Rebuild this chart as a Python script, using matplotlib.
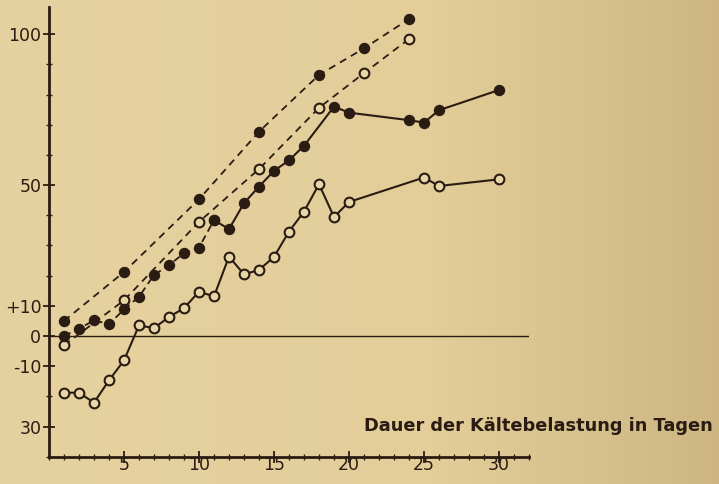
import numpy as np
import matplotlib
matplotlib.use("Agg")
import matplotlib.pyplot as plt
from matplotlib.ticker import FixedLocator, MultipleLocator
from matplotlib.colors import LinearSegmentedColormap

# Days of cold exposure and the four measured series
days_a = [1, 5, 10, 14, 18, 21, 24]
vals_a = [5.0, 21.2, 45.3, 67.7, 86.5, 95.3, 105.0]

days_b = [1, 5, 10, 14, 18, 21, 24]
vals_b = [-3.1, 11.8, 37.8, 55.3, 75.6, 87.1, 98.4]

days_c = [1, 2, 3, 4, 5, 6, 7, 8, 9, 10, 11, 12, 13, 14, 15, 16, 17, 19, 20, 24, 25, 26, 30]
vals_c = [0.0, 2.4, 5.2, 3.9, 8.8, 13.0, 20.2, 23.5, 27.4, 29.3, 38.4, 35.4, 44.0,
          49.5, 54.7, 58.2, 63.0, 76.0, 74.0, 71.5, 70.7, 74.8, 81.5]

days_d = [1, 2, 3, 4, 5, 6, 7, 8, 9, 10, 11, 12, 13, 14, 15, 16, 17, 18, 19, 20, 25, 26, 30]
vals_d = [-18.8, -18.8, -22.1, -14.7, -8.1, 3.5, 2.6, 6.3, 9.2, 14.7, 13.1, 26.3, 20.4,
          21.9, 26.2, 34.6, 41.2, 50.3, 39.4, 44.4, 52.5, 49.7, 51.9]

x_ticks = [5, 10, 15, 20, 25, 30]
y_ticks = [100, 50, 10, 0, -10, -30]
y_tick_labels = ["100", "50", "+10", "0", "-10", "30"]
x_title = "Dauer der Kältebelastung in Tagen"

ink = "#2a1c12"
W, H = 719, 484
fig = plt.figure(figsize=(W / 100, H / 100), dpi=100)

# paper-toned background, darkening toward the right edge
bg = fig.add_axes([0, 0, 1, 1], zorder=-10)
bg.set_axis_off()
paper = LinearSegmentedColormap.from_list(
    "paper", [(0.0, "#e6d2a0"), (0.6, "#e3ce9a"), (1.0, "#cdb681")])
grad = np.linspace(0, 1, 256)[None, :]
bg.imshow(grad, aspect="auto", cmap=paper, extent=[0, 1, 0, 1])

left = 49 / W
bottom = (H - 456.7) / H
width = 480 / W
height = 449.7 / H
ax = fig.add_axes([left, bottom, width, height])
ax.patch.set_alpha(0)
ax.set_xlim(0, 32)
ax.set_ylim(-40, 109)

for s in ("top", "right"):
    ax.spines[s].set_visible(False)
for s in ("left", "bottom"):
    ax.spines[s].set_color(ink)
    ax.spines[s].set_linewidth(2.0)

ax.xaxis.set_major_locator(FixedLocator(x_ticks))
ax.xaxis.set_minor_locator(MultipleLocator(1))
ax.set_xticklabels([str(t) for t in x_ticks])
ax.yaxis.set_major_locator(FixedLocator(y_ticks))
ax.yaxis.set_minor_locator(MultipleLocator(10))
ax.set_yticklabels(y_tick_labels)

ax.tick_params(axis="both", which="major", direction="inout", length=9, width=1.3,
               color=ink, labelcolor=ink, labelsize=12.5)
ax.tick_params(axis="both", which="minor", direction="inout", length=5, width=1.0, color=ink)
ax.tick_params(axis="x", which="major", pad=-5)
ax.tick_params(axis="y", which="major", pad=1)

# zero reference line
ax.axhline(0, xmin=0, xmax=32.1 / 32, color=ink, lw=1.0, zorder=1)

filled = dict(marker="o", ms=7.2, mfc=ink, mec=ink, color=ink, clip_on=False)
hollow = dict(marker="o", ms=7.0, mfc="#e8d6a6", mec=ink, mew=1.5, color=ink, clip_on=False)

ax.plot(days_a, vals_a, lw=1.3, dashes=(4, 3), **filled)
ax.plot(days_b, vals_b, lw=1.3, dashes=(4, 3), **hollow)

# first part of the filled curve is dashed, the rest solid
split = days_c.index(11) + 1
ax.plot(days_c[:split], vals_c[:split], lw=1.3, dashes=(4, 2.5), **filled)
ax.plot(days_c[split - 1:], vals_c[split - 1:], lw=1.5, ls="-", **filled)

ax.plot(days_d, vals_d, lw=1.5, ls="-", **hollow)

fig.text(713 / W, 1 - 431 / H, x_title, ha="right", va="baseline", color=ink,
         fontsize=12.8, fontweight="bold", family="DejaVu Sans")

fig.savefig("out.png", dpi=100)
